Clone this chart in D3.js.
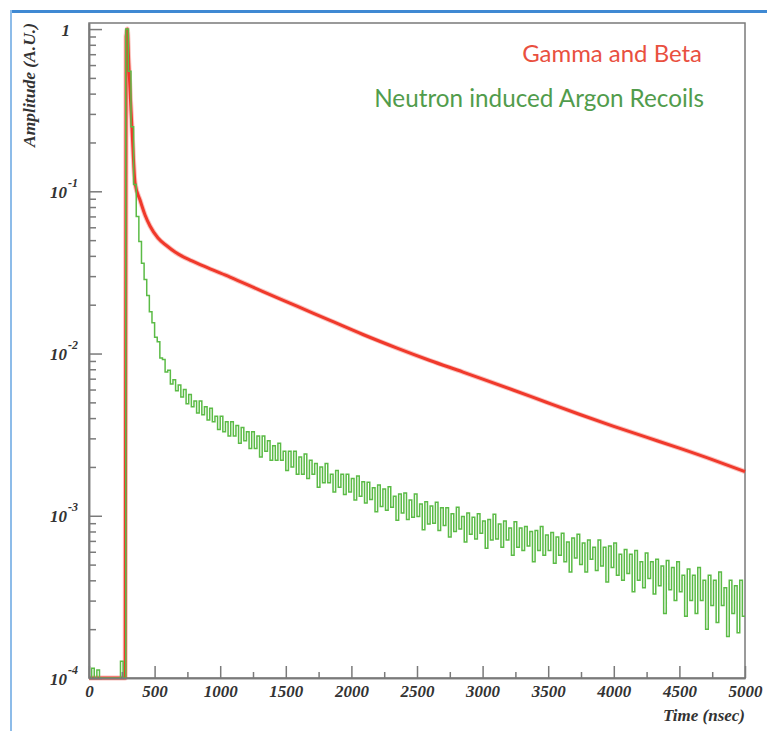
<!DOCTYPE html>
<html>
<head>
<meta charset="utf-8">
<script src="https://cdn.jsdelivr.net/npm/d3@7"></script>
<style>
  body { margin: 0; background: #fff; }
  svg { display: block; }
</style>
</head>
<body>
<script>
// ---- data -------------------------------------------------------------
// Neutron induced argon recoils: histogram contents, 20 ns bins from 0 ns
const BIN_NS = 20;
const greenAmp = [
  0, 0.000115, 0, 0.000112, 0, 0, 0, 0, 0, 0,
  0, 0, 0.000127, 0, 1.0, 0.55, 0.25, 0.11, 0.07, 0.049,
  0.036, 0.0286, 0.0228, 0.0181, 0.0155, 0.0126, 0.0118, 0.0094, 0.0092, 0.0077,
  0.0079, 0.0065, 0.0069, 0.0059, 0.0064, 0.0054, 0.0060, 0.0049, 0.0056, 0.0047,
  0.0051, 0.0043, 0.0051, 0.0042, 0.0047, 0.0039, 0.0046, 0.0038, 0.0041, 0.0034,
  0.0041, 0.0033, 0.0038, 0.0031, 0.0038, 0.0031, 0.0036, 0.0028, 0.0035, 0.0029,
  0.0033, 0.0026, 0.0033, 0.0026, 0.0031, 0.0023, 0.0031, 0.0025, 0.0029, 0.0022,
  0.0027, 0.0022, 0.0028, 0.0022, 0.0025, 0.0019, 0.0025, 0.0020, 0.0025, 0.0018,
  0.0023, 0.0018, 0.0024, 0.0017, 0.0022, 0.0018, 0.0021, 0.0015, 0.0020, 0.0016,
  0.0021, 0.0016, 0.0018, 0.0014, 0.0019, 0.0015, 0.0018, 0.00135, 0.0018, 0.0014,
  0.0017, 0.00125, 0.00176, 0.00132, 0.00162, 0.0012, 0.00161, 0.00126, 0.00149, 0.00106,
  0.00155, 0.00114, 0.00146, 0.00108, 0.00151, 0.00113, 0.00132, 0.00094, 0.00136, 0.00104,
  0.00138, 0.00095, 0.00125, 0.00098, 0.00136, 0.00099, 0.00118, 0.00082, 0.00122, 0.00089,
  0.00115, 0.0009, 0.00121, 0.00081, 0.00112, 0.00087, 0.00112, 0.00074, 0.00103, 0.0008,
  0.00113, 0.00083, 0.00099, 0.00069, 0.00104, 0.00077, 0.00098, 0.00072, 0.00103, 0.00078,
  0.00093, 0.00063, 0.00095, 0.00071, 0.00102, 0.00072, 0.00089, 0.00064, 0.00093, 0.00071,
  0.00084, 0.00057, 0.00092, 0.00064, 0.00084, 0.00061, 0.00086, 0.00065, 0.0008, 0.00052,
  0.00081, 0.00061, 0.00086, 0.00057, 0.00076, 0.00061, 0.00079, 0.00051, 0.00074, 0.00057,
  0.00078, 0.00052, 0.00069, 0.00045, 0.00073, 0.00055, 0.00077, 0.0005, 0.00068, 0.00045,
  0.00071, 0.00054, 0.00064, 0.00046, 0.00071, 0.00049, 0.00064, 0.00039, 0.00065, 0.00048,
  0.00068, 0.00043, 0.00058, 0.0004, 0.00062, 0.00044, 0.00058, 0.00034, 0.00061, 0.0004,
  0.00052, 0.00036, 0.00059, 0.00041, 0.00052, 0.00033, 0.00054, 0.00037, 0.00049, 0.00025,
  0.00053, 0.00035, 0.00048, 0.0003, 0.00052, 0.00034, 0.00043, 0.00024, 0.00047, 0.0003,
  0.00043, 0.00025, 0.00048, 0.0003, 0.0004, 0.0002, 0.00043, 0.00028, 0.0004, 0.00022,
  0.00045, 0.00028, 0.00036, 0.00018, 0.0004, 0.00025, 0.00037, 0.00019, 0.0004, 0.00024
];

// Gamma and beta: averaged pulse shape (time in ns, amplitude)
const redTime = [0, 276, 283, 292, 303, 316, 328, 351, 389, 427, 465, 526, 595, 656,
                 785, 907, 1075, 1326, 1585, 1837, 2088, 2348, 2599, 2851, 2980, 3232,
                 3491, 3742, 3994, 4253, 4505, 4756, 5000];
const redAmp  = [0, 0, 0.9, 1.0, 0.62, 0.37, 0.24, 0.1124, 0.0883, 0.0714, 0.0611,
                 0.0515, 0.0460, 0.0422, 0.0372, 0.0337, 0.0296, 0.0241, 0.0196, 0.0160,
                 0.0131, 0.0108, 0.00906, 0.00769, 0.00706, 0.00596, 0.00499, 0.00421,
                 0.00357, 0.00304, 0.00260, 0.00221, 0.00187];

const xMajorTicks = [0, 500, 1000, 1500, 2000, 2500, 3000, 3500, 4000, 4500, 5000];
const xMinorTicks = [250, 750, 1250, 1750, 2250, 2750, 3250, 3750, 4250, 4750];
const yDecadeExps = [0, -1, -2, -3, -4];
const legendLabels = ["Gamma and Beta", "Neutron induced Argon Recoils"];
const xTitle = "Time (nsec)";
const yTitle = "Amplitude (A.U.)";
const xDomain = [0, 5000];
const yDomain = [1e-4, 1.09];

// ---- layout ------------------------------------------------------------
const W = 767, H = 731;
const frame = { left: 89, right: 745, top: 23, bottom: 678 };
const RED = "#f0392b", GREEN = "#5bbb46";
const AXIS = "#7a7a7a";
const tickFont = "'Liberation Serif', 'Times New Roman', serif";

const svg = d3.select("body").append("svg").attr("width", W).attr("height", H);

// page border (top and left rules)
svg.append("line").attr("x1", 10).attr("x2", W).attr("y1", 11.5).attr("y2", 11.5)
  .attr("stroke", "#3f89d3").attr("stroke-width", 3);
svg.append("line").attr("x1", 11).attr("x2", 11).attr("y1", 10).attr("y2", H)
  .attr("stroke", "#8dbce9").attr("stroke-width", 2);

const x = d3.scaleLinear().domain(xDomain).range([frame.left, frame.right]);
const y = d3.scaleLog().domain(yDomain).range([frame.bottom, frame.top]);
const yc = v => y(Math.max(v, yDomain[0]));

// frame box
svg.append("rect")
  .attr("x", frame.left).attr("y", frame.top)
  .attr("width", frame.right - frame.left).attr("height", frame.bottom - frame.top)
  .attr("fill", "none").attr("stroke", AXIS).attr("stroke-width", 1.5);

// ---- curves -------------------------------------------------------------
const redPts = redTime.map((t, i) => ({ t, v: redAmp[i] }));
const redLine = d3.line().x(d => x(d.t)).y(d => yc(d.v)).curve(d3.curveMonotoneX);
svg.append("path").datum(redPts).attr("d", redLine)
  .attr("fill", "none").attr("stroke", RED).attr("stroke-opacity", 0.3)
  .attr("stroke-width", 5).attr("stroke-linejoin", "round");
svg.append("path").datum(redPts).attr("d", redLine)
  .attr("fill", "none").attr("stroke", RED)
  .attr("stroke-width", 3).attr("stroke-linejoin", "round");

const greenPts = greenAmp.map((v, i) => ({ t: i * BIN_NS, v }));
greenPts.push({ t: greenAmp.length * BIN_NS, v: greenAmp[greenAmp.length - 1] });
const greenLine = d3.line().x(d => x(d.t)).y(d => yc(d.v)).curve(d3.curveStepAfter);
svg.append("path").datum(greenPts).attr("d", greenLine)
  .attr("fill", "none").attr("stroke", GREEN).attr("stroke-width", 1.5);

// ---- axes ---------------------------------------------------------------
const xAxis = svg.append("g").attr("transform", `translate(0,${frame.bottom})`)
  .call(d3.axisBottom(x).tickValues(xMajorTicks).tickSizeInner(-12).tickSizeOuter(0)
    .tickPadding(7).tickFormat(d3.format("d")));
svg.append("g").attr("transform", `translate(0,${frame.bottom})`)
  .call(d3.axisBottom(x).tickValues(xMinorTicks).tickSizeInner(-6).tickSizeOuter(0)
    .tickFormat(""));

const yMinor = [];
yDecadeExps.slice(1).forEach(e => {
  for (let k = 2; k <= 9; k++) yMinor.push(k * Math.pow(10, e));
});
svg.append("g").attr("transform", `translate(${frame.left},0)`)
  .call(d3.axisLeft(y).tickValues(yMinor).tickSizeInner(-7).tickSizeOuter(0).tickFormat(""));
const yAxis = svg.append("g").attr("transform", `translate(${frame.left},0)`)
  .call(d3.axisLeft(y).tickValues(yDecadeExps.map(e => Math.pow(10, e)))
    .tickSizeInner(-13).tickSizeOuter(0).tickFormat(""));

svg.selectAll(".domain").attr("stroke", AXIS).attr("stroke-width", 1.5);
svg.selectAll(".tick line").attr("stroke", AXIS).attr("stroke-width", 1.5);

xAxis.selectAll(".tick text")
  .attr("font-family", tickFont).attr("font-style", "italic").attr("font-weight", "bold")
  .attr("font-size", 17).attr("fill", "#333");

// decade labels: "1", then 10 with a raised exponent
yAxis.selectAll(".tick").each(function (d) {
  const g = d3.select(this);
  const e = Math.round(Math.log10(d));
  const t = g.append("text")
    .attr("font-family", tickFont).attr("font-style", "italic").attr("font-weight", "bold")
    .attr("fill", "#333");
  if (e === 0) {
    t.attr("x", -19).attr("y", 6).attr("text-anchor", "end").attr("font-size", 17).text("1");
  } else {
    t.attr("x", -22).attr("y", 6).attr("text-anchor", "end").attr("font-size", 17).text("10");
    g.append("text")
      .attr("font-family", tickFont).attr("font-style", "italic").attr("font-weight", "bold")
      .attr("fill", "#333").attr("font-size", 12)
      .attr("x", -21).attr("y", -5).attr("text-anchor", "start").text(String(e));
  }
});

function fitWidth(sel, target) {
  const w = sel.node().getComputedTextLength();
  sel.attr("font-size", parseFloat(sel.attr("font-size")) * target / w);
}

// axis titles
const xt = svg.append("text").text(xTitle)
  .attr("x", frame.right).attr("y", 721).attr("text-anchor", "end")
  .attr("font-family", tickFont).attr("font-style", "italic").attr("font-weight", "bold")
  .attr("font-size", 15).attr("fill", "#333");
fitWidth(xt, 82);
const yt = svg.append("text").text(yTitle)
  .attr("transform", "translate(35,23) rotate(-90)").attr("text-anchor", "end")
  .attr("font-family", tickFont).attr("font-style", "italic").attr("font-weight", "bold")
  .attr("font-size", 15).attr("fill", "#333");
fitWidth(yt, 124);

// ---- legend -------------------------------------------------------------
const leg1 = svg.append("text").text(legendLabels[0])
  .attr("x", 702).attr("y", 62).attr("text-anchor", "end")
  .attr("font-family", "Lato, 'Open Sans', sans-serif").attr("font-size", 22)
  .attr("fill", "#e9503f");
fitWidth(leg1, 180);
const leg2 = svg.append("text").text(legendLabels[1])
  .attr("x", 704).attr("y", 107).attr("text-anchor", "end")
  .attr("font-family", "Lato, 'Open Sans', sans-serif").attr("font-size", 22)
  .attr("fill", "#519c4c");
fitWidth(leg2, 330);
</script>
</body>
</html>
